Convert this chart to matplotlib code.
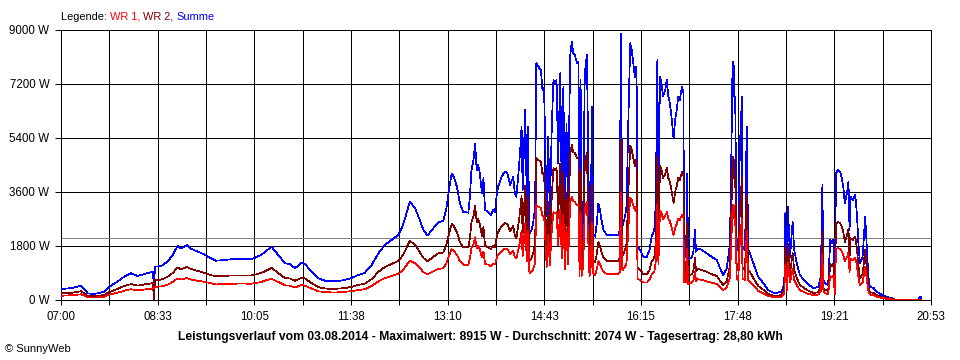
import matplotlib
matplotlib.use('Agg')
import matplotlib.pyplot as plt

plt.rcParams['font.family'] = ['Liberation Sans', 'DejaVu Sans']

# minutes after 07:00
minutes = [
    0, 5, 10, 14, 19, 22, 25.5, 32, 41.5, 46,
    54, 60.5, 67, 73.5, 80, 88, 89, 90, 96, 102,
    107, 111.5, 115, 120.5, 124.5, 131, 137, 143.5, 148.5, 156,
    163, 172.5, 182, 186.5, 191.5, 198.5, 201.5, 208, 214.5, 219,
    224, 230.5, 233.5, 240, 246.5, 253, 262.5, 272, 278.5, 284.5,
    291, 297.5, 304, 310, 316.5, 323, 327.5, 334, 339, 343.5,
    347, 351, 355, 361, 366, 369, 371.5, 374, 376, 379,
    382, 385, 390, 391.5, 393, 395, 396.5, 398, 399.5, 401,
    403, 404.5, 406, 409, 411.5, 413.5, 415.5, 417, 418.5, 422,
    425, 427.5, 430, 433, 434.5, 436, 438, 439.5, 441, 442,
    443.5, 444.5, 446, 447, 448.5, 450.5, 452, 454, 455, 457,
    459.5, 461, 462.5, 463.5, 465, 466.5, 468, 470, 471.5, 473,
    474.5, 476, 478, 479.5, 481, 482.5, 484, 485.5, 487.5, 489,
    490.5, 492, 494, 495.5, 496.5, 497.5, 498.5, 500, 501.5, 503.5,
    504.5, 506, 507, 508.5, 509.5, 511.5, 513, 514.5, 516, 517.5,
    519.5, 522.5, 529, 533.5, 535, 536, 537.5, 540, 541.5, 543,
    545, 546.5, 548, 549.5, 550.5, 551.5, 552, 554.5, 557.5, 561,
    563.5, 565.5, 568, 569.5, 571, 572, 573.5, 575, 576.5, 578.5,
    580, 581.5, 583, 584.5, 586.5, 588, 589.5, 591, 592.5, 594.5,
    596, 596.5, 598.5, 599.5, 600.5, 604, 605.5, 607, 608, 610,
    613.5, 618, 621.5, 623, 628, 631, 634, 637.5, 640.5, 642,
    643, 644, 644.5, 645.5, 647, 648.5, 650, 652, 652.5, 655,
    656.5, 658, 659.5, 663, 667.5, 672.5, 677, 683.5, 690, 692.5,
    693.5, 695, 696, 698, 700.5, 702, 704.5, 707.5, 714, 720.5,
    725, 727.5, 729, 730, 731.5, 734.5, 736.5, 738, 739.5, 741,
    742, 743.5, 746, 747.5, 749, 750.5, 752.5, 754, 755, 756,
    758, 760.5, 762, 763.5, 765, 767.5, 770, 771.5, 773, 774.5,
    778, 781, 786, 790.5, 795.5, 800, 820.5, 823, 824,
]

summe = [
    360, 380, 400, 430, 480, 380, 220, 200, 280, 440,
    610, 780, 890, 800, 870, 940, 400, 1110, 1130, 1280,
    1500, 1800, 1710, 1830, 1710, 1610, 1520, 1390, 1310, 1330,
    1360, 1370, 1360, 1420, 1500, 1690, 1780, 1500, 1220, 1200,
    1060, 1240, 1200, 940, 720, 640, 620, 670, 740, 830,
    910, 1170, 1560, 1830, 2000, 2170, 2500, 3280, 3060, 2670,
    2330, 2150, 2330, 2580, 2640, 3060, 3670, 4220, 4110, 3780,
    3220, 2940, 2910, 3440, 4330, 4670, 5220, 4330, 4500, 4220,
    3560, 4060, 3000, 2940, 2830, 3000, 2940, 3440, 3780, 4110,
    4280, 4220, 3830, 4110, 3560, 3440, 4220, 4890, 5780, 3670,
    5330, 6330, 3220, 5780, 2220, 2330, 2560, 3110, 7890, 7780,
    7670, 7000, 7060, 5440, 2780, 5440, 2890, 5890, 7330, 7220,
    7330, 4560, 7560, 3440, 7110, 2560, 5890, 3000, 8110, 8610,
    8220, 8170, 7890, 7940, 2000, 7330, 2000, 2890, 7560, 8170,
    5670, 2000, 2330, 6440, 2220, 2110, 2560, 3220, 3000, 2670,
    2330, 2170, 2170, 2170, 2330, 8890, 2440, 2780, 3110, 5670,
    8560, 8330, 7890, 7440, 7780, 6780, 1780, 1670, 1440, 1440,
    1670, 2110, 2330, 3220, 8000, 3000, 7440, 7220, 6780, 7000,
    7330, 6780, 6560, 6110, 5390, 6000, 6330, 6780, 6670, 7110,
    6890, 1440, 1440, 4220, 1330, 1440, 1610, 2330, 1610, 1720,
    1670, 1560, 1470, 1440, 1330, 1060, 830, 1060, 1890, 5220,
    7940, 7940, 6780, 6780, 1780, 1670, 5110, 6780, 1780, 1670,
    5780, 1670, 1560, 1220, 780, 560, 330, 220, 280, 560,
    2890, 780, 3110, 1440, 2610, 1670, 1220, 830, 560, 390,
    440, 780, 3830, 670, 560, 500, 2000, 1890, 2000, 440,
    4220, 4330, 4280, 4060, 3780, 3220, 3560, 3940, 2330, 3440,
    3330, 3500, 2890, 1890, 1220, 1440, 2780, 1780, 780, 440,
    400, 280, 170, 110, 60, 0, 0, 120, 0,
]

wr1 = [
    140, 150, 160, 170, 190, 150, 90, 80, 110, 180,
    240, 310, 360, 320, 350, 380, 380, 440, 450, 510,
    600, 720, 680, 730, 680, 640, 610, 560, 520, 530,
    540, 550, 540, 570, 600, 680, 710, 600, 490, 480,
    420, 500, 480, 380, 290, 260, 250, 270, 300, 330,
    360, 470, 620, 730, 800, 870, 1000, 1310, 1220, 1070,
    930, 860, 930, 1030, 1060, 1220, 1470, 1690, 1640, 1510,
    1290, 1180, 1160, 1380, 1730, 1870, 2090, 1730, 1800, 1690,
    1420, 1620, 1200, 1180, 1130, 1200, 1180, 1380, 1510, 1640,
    1710, 1690, 1530, 1640, 1420, 1380, 1690, 1960, 2310, 1470,
    2130, 2530, 1290, 2310, 890, 930, 1020, 1240, 3160, 3110,
    3070, 2800, 2820, 2180, 1110, 2180, 1160, 2360, 2930, 2890,
    2930, 1820, 3020, 1380, 2840, 1020, 2360, 1200, 3240, 3440,
    3290, 3270, 3160, 3180, 800, 2930, 800, 1160, 3020, 3270,
    2270, 800, 930, 2580, 890, 840, 1020, 1290, 1200, 1070,
    930, 870, 870, 870, 930, 3560, 980, 1110, 1240, 2270,
    3420, 3330, 3160, 2980, 3110, 2710, 710, 670, 580, 580,
    670, 840, 930, 1290, 3200, 1200, 2980, 2890, 2710, 2800,
    2930, 2710, 2620, 2440, 2160, 2400, 2530, 2710, 2670, 2840,
    2760, 580, 580, 1690, 530, 580, 640, 930, 640, 690,
    670, 620, 590, 580, 530, 420, 330, 420, 760, 2090,
    3180, 3180, 2710, 2710, 710, 670, 2040, 2710, 710, 670,
    2310, 670, 620, 490, 310, 220, 130, 90, 110, 220,
    1160, 310, 1240, 580, 1040, 670, 490, 330, 220, 160,
    180, 310, 1530, 270, 220, 200, 800, 760, 800, 180,
    1690, 1730, 1710, 1620, 1510, 1290, 1420, 1580, 930, 1380,
    1330, 1400, 1160, 760, 490, 580, 1110, 710, 310, 180,
    160, 110, 70, 40, 20, 0, 0, 0, 0,
]

wr2 = [
    220, 230, 240, 260, 290, 230, 130, 120, 170, 260,
    370, 470, 530, 480, 520, 560, 20, 670, 680, 770,
    900, 1080, 1030, 1100, 1030, 970, 910, 830, 790, 800,
    820, 820, 820, 850, 900, 1010, 1070, 900, 730, 720,
    640, 740, 720, 560, 430, 380, 370, 400, 440, 500,
    550, 700, 940, 1100, 1200, 1300, 1500, 1970, 1840, 1600,
    1400, 1290, 1400, 1550, 1580, 1840, 2200, 2530, 2470, 2270,
    1930, 1760, 1750, 2060, 2600, 2800, 3130, 2600, 2700, 2530,
    2140, 2440, 1800, 1760, 1700, 1800, 1760, 2060, 2270, 2470,
    2570, 2530, 2300, 2470, 2140, 2060, 2530, 2930, 3470, 2200,
    3200, 3800, 1930, 3470, 1330, 1400, 1540, 1870, 4730, 4670,
    4600, 4200, 4240, 3260, 1670, 3260, 1730, 3530, 4400, 4330,
    4400, 2740, 4540, 2060, 4270, 1540, 3530, 1800, 4870, 5170,
    4930, 4900, 4730, 4760, 1200, 4400, 1200, 1730, 4540, 4900,
    3400, 1200, 1400, 3860, 1330, 1270, 1540, 1930, 1800, 1600,
    1400, 1300, 1300, 1300, 1400, 5330, 1460, 1670, 1870, 3400,
    5140, 5000, 4730, 4460, 4670, 4070, 1070, 1000, 860, 860,
    1000, 1270, 1400, 1930, 4800, 1800, 4460, 4330, 4070, 4200,
    4400, 4070, 3940, 3670, 3230, 3600, 3800, 4070, 4000, 4270,
    4130, 860, 860, 2530, 800, 860, 970, 1400, 970, 1030,
    1000, 940, 880, 860, 800, 640, 500, 640, 1130, 3130,
    4760, 4760, 4070, 4070, 1070, 1000, 3070, 4070, 1070, 1000,
    3470, 1000, 940, 730, 470, 340, 200, 130, 170, 340,
    1730, 470, 1870, 860, 1570, 1000, 730, 500, 340, 230,
    260, 470, 2300, 400, 340, 300, 1200, 1130, 1200, 260,
    2530, 2600, 2570, 2440, 2270, 1930, 2140, 2360, 1400, 2060,
    2000, 2100, 1730, 1130, 730, 860, 1670, 1070, 470, 260,
    240, 170, 100, 70, 40, 0, 0, 0, 0,
]

time_labels = ['07:00', '08:33', '10:05', '11:38', '13:10',
               '14:43', '16:15', '17:48', '19:21', '20:53']
y_ticks = [0, 1800, 3600, 5400, 7200, 9000]
day_span = 833  # 07:00 -> 20:53
average = 2074

legend_parts = ['Legende: ', 'WR 1, ', 'WR 2, ', 'Summe']
legend_colors = ['black', '#ff0000', '#800000', '#0000ff']
title = ('Leistungsverlauf vom 03.08.2014 - Maximalwert: 8915 W - '
         'Durchschnitt: 2074 W - Tagesertrag: 28,80 kWh')

px = 0.72  # one pixel in points

fig = plt.figure(figsize=(9.6, 3.6), dpi=100)
ax = fig.add_axes([61 / 960, 60 / 360, 870 / 960, 270 / 360])

ax.plot(minutes, summe, color='#0000ff', lw=0.5, antialiased=False, zorder=3)
ax.plot(minutes, wr2, color='#800000', lw=0.5, antialiased=False, zorder=4)
ax.plot(minutes, wr1, color='#ff0000', lw=0.5, antialiased=False, zorder=5)
ax.axhline(average, color='#808080', lw=px, antialiased=False, zorder=2)

ax.set_xlim(0, day_span)
ax.set_ylim(0, 9000)
grid_x = [day_span * i / 18 for i in range(19)]
ax.set_xticks(grid_x[::2])
ax.set_xticklabels(time_labels)
ax.set_xticks(grid_x[1::2], minor=True)
ax.set_yticks(y_ticks)
ax.set_yticklabels([f'{v} W' for v in y_ticks])
ax.set_axisbelow(True)
ax.grid(True, which='both', color='black', lw=px, antialiased=False)

ax.tick_params(axis='x', which='both', direction='out', length=3.6, width=px,
               labelsize=8.3, pad=4)
ax.tick_params(axis='y', direction='out', length=4.3, width=px,
               labelsize=8.3, pad=4)
for s in ax.spines.values():
    s.set_color('black')
    s.set_linewidth(px)

# coloured legend line at the top
renderer = fig.canvas.get_renderer()
x = 61
for part, col in zip(legend_parts, legend_colors):
    t = fig.text(x / 960, 1 - 16.5 / 360, part, color=col, fontsize=7.9, va='center')
    x = t.get_window_extent(renderer).x1

fig.text(0.5, 1 - 337 / 360, title, ha='center', va='center',
         fontsize=8.7, fontweight='bold')
fig.text(5 / 960, 1 - 349 / 360, '\u00a9 SunnyWeb', fontsize=8, va='center')

fig.savefig('out.png', dpi=100)
